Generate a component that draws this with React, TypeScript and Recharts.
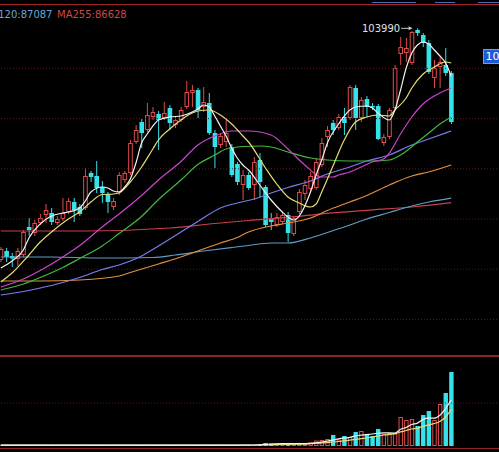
import React from "react";
import { Bar, ComposedChart, Line, ReferenceLine, XAxis, YAxis } from "recharts";

type Pt = [number, number];

// one category slot per session; a few empty slots keep room on the right
const BAND = 5.63;
const SLOTS = 89;
const CHART_W = BAND * SLOTS;
const CHART_LEFT = 0.4 - BAND / 2;

const PRICE_DOMAIN: [number, number] = [71355, 106414];
const VOL_DOMAIN: [number, number] = [0, 90000];

const UP = "#e04c4c";
const DOWN = "#36e2ea";
const GRID = "#5e1c1c";
const FRAME = "#8e2626";

const opens = [
  80916, 81812, 81316, 81016, 81414, 84203, 83605, 84601, 85398, 85597,
  84601, 85000, 85697, 86693, 86195, 86095, 89581, 89282, 88187, 87490,
  86195, 87689, 88884, 89581, 92669, 94661, 93864, 95159, 95458, 95059,
  96055, 94362, 94860, 96155, 97549, 97848, 96155, 96553, 93565, 92370,
  92669, 92171, 90478, 88386, 89382, 88386, 90876, 88187, 85000, 84402,
  84701, 85398, 83506, 85697, 87490, 87988, 88087, 90378, 93167, 94561,
  94063, 95159, 95059, 98047, 95059, 96952, 96254, 96254, 92569, 93167,
  96055, 101434, 101533, 100537, 103824, 103326, 102529, 99043, 100139, 100338,
  99541,
];
const highs = [
  82211, 82111, 81613, 82111, 83904, 85099, 84900, 85498, 86494, 86095,
  85298, 87091, 87091, 87091, 86494, 90079, 89780, 90776, 88784, 87689,
  87091, 89681, 89780, 92868, 94362, 94960, 96553, 96155, 95756, 96653,
  96354, 95159, 96155, 98744, 98346, 98047, 98147, 97549, 93864, 93565,
  94860, 92470, 90677, 89880, 89681, 91175, 91573, 88386, 85597, 85597,
  85697, 85697, 85298, 87988, 88884, 89681, 91075, 93067, 94262, 94860,
  95458, 96055, 98346, 98346, 97151, 97251, 96553, 96454, 93466, 96055,
  100338, 103127, 103027, 103724, 103990, 103525, 102828, 100836, 101035, 102032,
  99740,
];
const lows = [
  80717, 80717, 80219, 80318, 81215, 83306, 83306, 84402, 84601, 84402,
  84402, 84801, 85498, 84701, 85298, 85896, 88685, 87589, 86593, 85597,
  85896, 87390, 88585, 89382, 92470, 92071, 93665, 94860, 91872, 94860,
  93864, 94063, 94661, 95956, 96155, 95059, 95657, 93366, 90079, 92071,
  92171, 89183, 88386, 86892, 87888, 86892, 87191, 84203, 83904, 84203,
  84502, 82709, 83306, 85498, 86892, 87789, 87888, 90179, 92171, 93366,
  93864, 93366, 94860, 93864, 94661, 95159, 95856, 92868, 92270, 92968,
  95856, 100338, 100637, 100338, 103226, 102131, 99442, 98047, 98047, 99243,
  94462,
];
const closes = [
  82012, 81215, 81066, 81812, 83705, 83904, 84601, 85099, 85896, 84701,
  85000, 85597, 86792, 85896, 85498, 89282, 89183, 88087, 87589, 86693,
  86792, 89382, 89581, 92569, 93864, 93565, 95358, 95657, 94860, 95557,
  94561, 94860, 95856, 97649, 97848, 95856, 96653, 93565, 92171, 93266,
  93565, 89382, 88685, 89382, 88087, 90677, 88685, 84402, 84701, 85199,
  85398, 83605, 85099, 87689, 88386, 89282, 90677, 92569, 93864, 93864,
  95159, 94561, 98147, 95059, 96852, 96155, 96105, 92968, 93167, 95856,
  100039, 102131, 102032, 103625, 103525, 102529, 99641, 100039, 100637, 99541,
  94661,
];
const volumes = [
  900, 800, 700, 1000, 1200, 800, 900, 800, 1000, 900,
  700, 900, 1000, 800, 700, 1100, 800, 900, 800, 700,
  800, 1000, 800, 1100, 1000, 900, 1000, 800, 900, 800,
  900, 700, 800, 1000, 800, 900, 800, 1000, 1000, 800,
  900, 1000, 900, 1000, 900, 1100, 1500, 3000, 2500, 1800,
  1800, 2600, 2400, 2200, 2500, 3500, 5500, 6000, 7000, 11000,
  6500, 10000, 9000, 14000, 15000, 12000, 10000, 17000, 12000, 13000,
  12500, 29000, 26000, 27000, 20000, 31000, 35000, 26000, 42000, 53000,
  74000,
];

// moving averages, [session index, value]
const ma5: Pt[] = [
  [0, 80119], [2, 80816], [4, 81912], [5, 83107], [7, 84502], [9, 85298], [11, 85597], [12, 85697],
  [14, 86095], [15, 86792], [16, 87689], [18, 88187], [19, 88087], [20, 87788], [21, 87689], [22, 88187],
  [23, 88984], [24, 90577], [25, 92569], [26, 93466], [27, 94262], [28, 94860], [30, 95159], [32, 95259],
  [34, 95657], [35, 95956], [36, 96354], [37, 96155], [38, 95259], [39, 94262], [40, 93266], [41, 92071],
  [42, 91075], [43, 90378], [44, 89880], [46, 88386], [48, 86892], [50, 85697], [51, 85199], [52, 84900],
  [53, 85298], [54, 86294], [55, 87689], [56, 89382], [57, 90876], [58, 92569], [60, 94462], [62, 95856],
  [63, 96155], [65, 96254], [66, 96055], [67, 95557], [69, 94860], [70, 95856], [71, 97848], [72, 100039],
  [73, 101533], [74, 102330], [75, 102629], [76, 102430], [77, 101832], [78, 101235], [79, 100537], [80, 99243],
];
const ma10: Pt[] = [
  [0, 78725], [2, 79616], [5, 81414], [7, 82709], [9, 83705], [12, 85000], [14, 85697], [16, 86693],
  [18, 87440], [20, 87490], [21, 87589], [23, 88685], [25, 90179], [27, 91972], [28, 92868], [30, 93964],
  [32, 94860], [34, 95557], [35, 95757], [37, 95856], [39, 95358], [41, 94462], [43, 93266], [44, 92669],
  [47, 90079], [49, 88486], [51, 87191], [53, 86593], [55, 86195], [56, 86494], [57, 87689], [59, 90278],
  [61, 92868], [63, 94661], [65, 95159], [67, 95358], [69, 95258], [70, 95856], [72, 97051], [73, 98047],
  [75, 99442], [77, 100139], [79, 100637], [80, 100537],
];
const ma20: Pt[] = [
  [0, 78227], [4, 79024], [7, 79870], [11, 81215], [14, 82360], [18, 84203], [21, 85498], [25, 87341],
  [28, 88884], [32, 90727], [35, 92370], [38, 93266], [41, 93764], [44, 93764], [48, 93366], [51, 91972],
  [54, 90378], [57, 89183], [59, 89183], [60, 89382], [62, 89681], [64, 90179], [66, 90677], [68, 90976],
  [69, 91573], [71, 93466], [73, 95159], [75, 96454], [77, 97251], [80, 98047],
];
const ma30: Pt[] = [
  [0, 77928], [4, 78526], [7, 79173], [11, 80169], [14, 81066], [18, 82310], [21, 83555], [25, 85249],
  [28, 86942], [32, 88884], [35, 90428], [38, 91374], [40, 91972], [43, 92221], [46, 92270], [48, 92171],
  [51, 91673], [55, 91075], [58, 90876], [62, 90776], [66, 90776], [69, 90876], [71, 91374], [74, 92669],
  [76, 93565], [78, 94462], [80, 95159],
];
const ma60: Pt[] = [
  [0, 77430], [4, 77779], [7, 78128], [11, 78675], [14, 79173], [18, 79970], [21, 80418], [25, 81316],
  [28, 82310], [32, 83705], [35, 84751], [39, 86095], [42, 86593], [45, 86992], [48, 87589], [51, 88138],
  [55, 88785], [58, 89482], [62, 90179], [65, 90777], [69, 91374], [73, 92370], [76, 92968], [80, 93764],
];
const ma90: Pt[] = [
  [0, 78824], [7, 78824], [14, 78924], [21, 79322], [23, 79671], [28, 80518], [32, 81215], [35, 81812],
  [39, 82609], [42, 83157], [44, 83705], [48, 84302], [51, 84601], [55, 85099], [58, 85846], [62, 86693],
  [65, 87340], [69, 88386], [73, 89282], [76, 89681], [80, 90378],
];
const ma120: Pt[] = [
  [0, 81215], [9, 81215], [18, 81115], [27, 81165], [31, 81414], [36, 81812], [41, 82161], [44, 82360],
  [48, 82609], [51, 82609], [55, 83107], [58, 83655], [62, 84402], [65, 85000], [69, 85647], [72, 86145],
  [76, 86693], [80, 87087],
];
const ma255: Pt[] = [
  [0, 83805], [15, 83805], [30, 84103], [38, 84552], [44, 84851], [51, 85170], [58, 85568], [65, 85867],
  [73, 86195], [80, 86628],
];

const vma5: Pt[] = [
  [0, 900], [20, 900], [40, 900], [45, 1000], [48, 2000], [50, 2300], [53, 2300], [55, 2600],
  [57, 3900], [58, 4900], [60, 7200], [62, 8700], [63, 10100], [64, 10900], [66, 12000], [68, 13200],
  [70, 12900], [71, 16700], [72, 18500], [73, 21500], [74, 22900], [75, 26600], [76, 27800], [77, 27800],
  [78, 30800], [79, 37400], [80, 46000],
];
const vma10: Pt[] = [
  [0, 900], [40, 900], [46, 1000], [50, 1600], [55, 2300], [58, 3400], [60, 4500], [62, 5900],
  [64, 7300], [66, 9000], [68, 11000], [70, 12300], [71, 14100], [72, 15500], [73, 17000], [74, 17900],
  [75, 19700], [76, 21200], [77, 22500], [78, 24600], [79, 29000], [80, 36300],
];

const gridPrices = [100000, 95000, 90000, 85000, 80000, 75000];
const volGrid = 43000;

const priceLines = [
  { key: "ma255", pts: ma255, color: "#c8404c" },
  { key: "ma120", pts: ma120, color: "#5f9cc6" },
  { key: "ma90", pts: ma90, color: "#e0903e" },
  { key: "ma60", pts: ma60, color: "#7c7cf0" },
  { key: "ma30", pts: ma30, color: "#3fba3f" },
  { key: "ma20", pts: ma20, color: "#cc44cc" },
  { key: "ma10", pts: ma10, color: "#e6dc74" },
  { key: "ma5", pts: ma5, color: "#f2f2f2" },
];
const volLines = [
  { key: "vma10", pts: vma10, color: "#e6dc74" },
  { key: "vma5", pts: vma5, color: "#f2f2f2" },
];

const rows: Record<string, any>[] = Array.from({ length: SLOTS }, (_, i) => {
  const row: Record<string, any> = { i };
  if (i < opens.length) {
    row.open = opens[i];
    row.high = highs[i];
    row.low = lows[i];
    row.close = closes[i];
    row.range = [lows[i], highs[i]];
    row.vol = volumes[i];
  }
  return row;
});
[...priceLines, ...volLines].forEach(({ key, pts }) => pts.forEach(([i, v]) => (rows[i][key] = v)));

const peakHigh = Math.max(...highs);
const last = (pts: Pt[]) => pts[pts.length - 1][1];

function Candle(props: any) {
  const { x, y, width, height, payload } = props;
  if (!payload || payload.open == null) return null;
  const { open, high, low, close } = payload;
  const top = Math.min(y, y + height);
  const k = Math.abs(height) / (high - low);
  const py = (v: number) => top + (high - v) * k;
  const cx = x + width / 2;
  const w = 4.6;
  const yHigh = py(high);
  const yLow = py(low);
  const bTop = py(Math.max(open, close));
  const bBot = py(Math.min(open, close));
  const up = close >= open;

  return (
    <g>
      {up ? (
        <>
          <line x1={cx} x2={cx} y1={yHigh} y2={bTop} stroke={UP} />
          <line x1={cx} x2={cx} y1={bBot} y2={yLow} stroke={UP} />
          <rect
            x={cx - w / 2 + 0.5}
            y={bTop + 0.5}
            width={w - 1}
            height={Math.max(bBot - bTop - 1, 0.5)}
            fill="#000"
            stroke={UP}
          />
        </>
      ) : (
        <>
          <line x1={cx} x2={cx} y1={yHigh} y2={yLow} stroke={DOWN} />
          <rect x={cx - w / 2} y={bTop} width={w} height={Math.max(bBot - bTop, 1)} fill={DOWN} />
        </>
      )}
      {high === peakHigh && (
        <g>
          <text x={cx - 17.5} y={yHigh + 3.5} textAnchor="end" fill="#e0e0e0" fontSize={10} fontFamily="DejaVu Sans">
            {high}
          </text>
          <line x1={cx - 16.5} x2={cx - 8} y1={yHigh} y2={yHigh} stroke="#c8c8c8" />
          <path d={`M${cx - 5},${yHigh} l-4,-2 v4 z`} fill="#c8c8c8" />
        </g>
      )}
    </g>
  );
}

function VolumeBar(props: any) {
  const { x, y, width, height, payload } = props;
  if (!payload || payload.vol == null) return null;
  const cx = x + width / 2;
  const bottom = y + height;
  const h = Math.max(height, 1);
  const top = bottom - h;
  const w = 4.4;
  if (payload.close >= payload.open) {
    if (h < 3) return <rect x={cx - w / 2} y={top} width={w} height={h} fill={UP} />;
    return <rect x={cx - w / 2 + 0.5} y={top + 0.5} width={w - 1} height={h - 1} fill="none" stroke={UP} />;
  }
  return <rect x={cx - w / 2} y={top} width={w} height={h} fill={DOWN} />;
}

const hline = (top: number, height: number, color: string, left = 0, width = 499): React.CSSProperties => ({
  position: "absolute",
  top,
  left,
  width,
  height,
  background: color,
});

export default function App() {
  return (
    <div style={{ position: "fixed", left: 0, top: 0, width: 499, height: 452, background: "#000", overflow: "hidden" }}>
      <div style={{ position: "absolute", left: CHART_LEFT, top: 0 }}>
        <ComposedChart width={CHART_W} height={356} data={rows} margin={{ top: 4, right: 0, bottom: 0, left: 0 }} barCategoryGap={0} barGap={0}>
          <XAxis dataKey="i" hide />
          <YAxis hide domain={PRICE_DOMAIN} allowDataOverflow />
          {gridPrices.map((p) => (
            <ReferenceLine key={p} y={p} stroke={GRID} strokeDasharray="1 2" />
          ))}
          <Bar dataKey="range" shape={Candle} isAnimationActive={false} />
          {priceLines.map((l) => (
            <Line
              key={l.key}
              dataKey={l.key}
              type="monotone"
              stroke={l.color}
              strokeWidth={1.2}
              dot={false}
              activeDot={false}
              connectNulls
              isAnimationActive={false}
            />
          ))}
        </ComposedChart>
      </div>

      <div style={{ position: "absolute", left: CHART_LEFT, top: 356 }}>
        <ComposedChart width={CHART_W} height={96} data={rows} margin={{ top: 0, right: 0, bottom: 6, left: 0 }} barCategoryGap={0} barGap={0}>
          <XAxis dataKey="i" hide />
          <YAxis hide domain={VOL_DOMAIN} allowDataOverflow />
          <ReferenceLine y={volGrid} stroke={GRID} strokeDasharray="1 2" />
          <Bar dataKey="vol" shape={VolumeBar} isAnimationActive={false} />
          {volLines.map((l) => (
            <Line
              key={l.key}
              dataKey={l.key}
              type="monotone"
              stroke={l.color}
              strokeWidth={1.2}
              dot={false}
              activeDot={false}
              connectNulls
              isAnimationActive={false}
            />
          ))}
        </ComposedChart>
      </div>

      {/* panel frame */}
      <div style={hline(4, 1.3, "#a42828")} />
      <div style={hline(355, 1.5, FRAME)} />
      <div style={hline(447.5, 1.2, FRAME)} />
      <div style={hline(2, 1, "#4a6cb0", 372, 44)} />
      <div style={hline(2, 1, "#4a6cb0", 435, 20)} />
      <div style={hline(2, 1, "#4a6cb0", 478, 21)} />

      <svg width={499} height={30} style={{ position: "absolute", left: 0, top: 0 }}>
        <text x={52.5} y={18.3} textAnchor="end" fill="#6aa6d8" fontSize={10} fontFamily="DejaVu Sans">
          {`MA120:${last(ma120)}`}
        </text>
        <text x={57} y={18.3} fill="#d04848" fontSize={10} fontFamily="DejaVu Sans">
          {`MA255:${last(ma255)}`}
        </text>
      </svg>

      <div
        style={{
          position: "absolute",
          left: 483,
          top: 49,
          width: 18,
          height: 15,
          boxSizing: "border-box",
          background: "#1d5ad4",
          border: "1px solid #6f9bf0",
          color: "#fff",
          fontFamily: "DejaVu Sans",
          fontSize: 11,
          lineHeight: "13px",
          paddingLeft: 1.5,
          overflow: "hidden",
          whiteSpace: "nowrap",
        }}
      >
        10
      </div>
    </div>
  );
}
